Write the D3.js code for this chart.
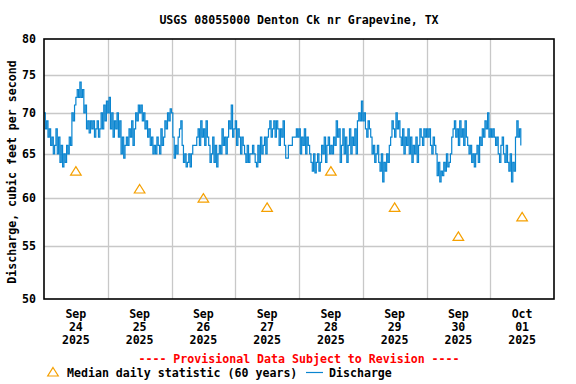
<!DOCTYPE html>
<html>
<head>
<meta charset="utf-8">
<script src="https://cdn.jsdelivr.net/npm/d3@7"></script>
<style>
  body { margin: 0; background: #fff; }
  text { font-family: "DejaVu Sans Mono", "Liberation Mono", monospace; font-weight: bold; font-size: 11.6px; }
</style>
</head>
<body>
<svg id="chart" width="576" height="384"></svg>
<script>
var title = "USGS 08055000 Denton Ck nr Grapevine, TX";
var yTitle = "Discharge, cubic feet per second";
var yTicks = [50, 55, 60, 65, 70, 75, 80];
var gridValues = [55, 60, 65, 70, 75];
var tickDays = ["2025-09-24", "2025-09-25", "2025-09-26", "2025-09-27", "2025-09-28", "2025-09-29", "2025-09-30", "2025-10-01"];
var medianValues = [63, 61, 60, 59, 63, 59, 56, 58];

// discharge, every 30 minutes from Sep 24 00:00
var dischargeStart = "2025-09-24T00:00";
var discharge = [
  70,68,69,67,68,66,67,65,66,68,65,67,
  64,66,63.5,65,64,66,65,67,66,70,69,71,
  72,73,72,74,72,73,70,71,68,69,67.5,69,
  68,69,67,68,69,67,68,70,68,71,69,71.5,
  70,72,68,70,67,69,68,70,67,69,65,67,
  64.5,66,67,66,68,67,69,66,68,70,69,71,
  70,71,69,70,68,69,67,68,66,67,65,66,
  65,67,66,65,68,66,67,69,68,70,69,70.5,
  70,67,64.5,66,65,67,68,69,66,64,65,63.5,
  64,65,63.5,65,66,66,66,67,68,66,69,67,
  68,66,69,67,66,64,65,67,64,66,63.5,65,
  66,65,68,66,67,65,67,69,68,71,67,68,
  69,66,68,67,65,67,66,65,64,66,64,65,
  65,66,65,64,63.5,66,64,67,65,66,67,65,
  67,68,69,67,68,69,67,69,68,66,68,67,
  69,66,64.5,64.5,66,66,66,67,67,67,68,67,
  68,65,67,66,68,65,67,66,65,64,63,65,
  62.8,64,65,63,64,66,65,67,64,66,67,65,
  66,65,67,66,69,67,68,64,66,68,65,67,
  64,66,68,65,67,66,68,65,69,70,69,71.5,
  69,70,68,67,69,68,67,65,66,64,65,66,
  64,63,65,61.8,64,63,65,64,66,67,69,68,
  67,70,68,69,67,66,68,65,67,66,68,65,
  67,64,66,65,67,64,66,68,67,66,68,67,
  68,67,68,66,65,67,66,65,62.5,64,61.8,63,
  62.5,64,63,65,63.5,64,65,67,68,69,67,68,
  66,69,67,68,66,69,67,66,65,66,64,65,
  63.5,65,66,64,67,66,68,67,69,68,70,67,
  68,67,68,67,66,67,65,64,66,67,65,64,
  66,64,63,65,61.8,64,63,67,69,67,68,66
];

var parseDay = d3.timeParse("%Y-%m-%d");
var parseTime = d3.timeParse("%Y-%m-%dT%H:%M");
var days = tickDays.map(parseDay);
var t0 = parseTime(dischargeStart);

var plotLeft = 44, plotRight = 554, plotTop = 39, plotBottom = 299;
var svg = d3.select("#chart");

var x = d3.scaleTime()
  .domain([days[0], d3.timeDay.offset(days[days.length - 1], 1)])
  .range([plotLeft, plotRight]);
var y = d3.scaleLog().domain([50, 80]).range([plotBottom, plotTop]);

var blue = "#0a85d0";
var orange = "#f5a000";

// grid
svg.append("g").selectAll("line").data(gridValues).enter().append("line")
  .attr("x1", plotLeft).attr("x2", plotRight)
  .attr("y1", function(d) { return Math.round(y(d)) + 0.5; })
  .attr("y2", function(d) { return Math.round(y(d)) + 0.5; })
  .attr("stroke", "#c8c8c8").attr("stroke-width", 1.3);

svg.append("g").selectAll("line").data(days.slice(1)).enter().append("line")
  .attr("x1", function(d) { return Math.round(x(d)) + 0.5; })
  .attr("x2", function(d) { return Math.round(x(d)) + 0.5; })
  .attr("y1", plotTop).attr("y2", plotBottom)
  .attr("stroke", "#c8c8c8").attr("stroke-width", 1.3);

// discharge line
var points = discharge.map(function(v, i) {
  return { t: d3.timeMinute.offset(t0, i * 30), v: v };
});
var line = d3.line()
  .x(function(d) { return x(d.t); })
  .y(function(d) { return y(d.v); })
  .curve(d3.curveStepAfter);
svg.append("path").datum(points)
  .attr("d", line)
  .attr("fill", "none")
  .attr("stroke", blue)
  .attr("stroke-width", 1.2);

// median triangles
function tri(cx, cy) {
  return "M" + cx + "," + (cy - 4.5) + "L" + (cx + 5.3) + "," + (cy + 4) + "L" + (cx - 5.3) + "," + (cy + 4) + "Z";
}
svg.append("g").selectAll("path").data(medianValues).enter().append("path")
  .attr("d", function(d, i) { return tri(x(d3.timeHour.offset(days[i], 12)), y(d)); })
  .attr("fill", "none").attr("stroke", orange).attr("stroke-width", 1.2);

// frame
svg.append("rect")
  .attr("x", plotLeft).attr("y", plotTop)
  .attr("width", plotRight - plotLeft).attr("height", plotBottom - plotTop)
  .attr("fill", "none").attr("stroke", "#000").attr("stroke-width", 1.6);

// y axis
var yAxis = d3.axisLeft(y).tickValues(yTicks).tickSize(0).tickPadding(8)
  .tickFormat(d3.format("d"));
var gy = svg.append("g").attr("transform", "translate(" + plotLeft + ",0)").call(yAxis);
gy.select(".domain").remove();
gy.attr("font-family", null).attr("font-size", null);
gy.selectAll("text").attr("fill", "#000");

// x labels
var fmtMon = d3.timeFormat("%b"), fmtDay = d3.timeFormat("%d"), fmtYear = d3.timeFormat("%Y");
var xl = svg.append("g").selectAll("text").data(days).enter().append("text")
  .attr("text-anchor", "middle");
xl.each(function(d) {
  var cx = x(d3.timeHour.offset(d, 12));
  var t = d3.select(this);
  t.append("tspan").attr("x", cx).attr("y", 318).text(fmtMon(d));
  t.append("tspan").attr("x", cx).attr("y", 331).text(fmtDay(d));
  t.append("tspan").attr("x", cx).attr("y", 344).text(fmtYear(d));
});

// titles
svg.append("text").attr("x", 299).attr("y", 24).attr("text-anchor", "middle").text(title);
svg.append("text")
  .attr("transform", "translate(16,172) rotate(-90)")
  .attr("text-anchor", "middle").text(yTitle);

svg.append("text").attr("x", 299).attr("y", 363).attr("text-anchor", "middle")
  .attr("fill", "#ff0000").text("---- Provisional Data Subject to Revision ----");

// legend
svg.append("path").attr("d", tri(53, 372)).attr("fill", "none").attr("stroke", orange).attr("stroke-width", 1.2);
svg.append("text").attr("x", 67).attr("y", 377).text("Median daily statistic (60 years)");
svg.append("line").attr("x1", 306).attr("x2", 323).attr("y1", 372.5).attr("y2", 372.5)
  .attr("stroke", blue).attr("stroke-width", 1.2);
svg.append("text").attr("x", 329).attr("y", 377).text("Discharge");
</script>
</body>
</html>
